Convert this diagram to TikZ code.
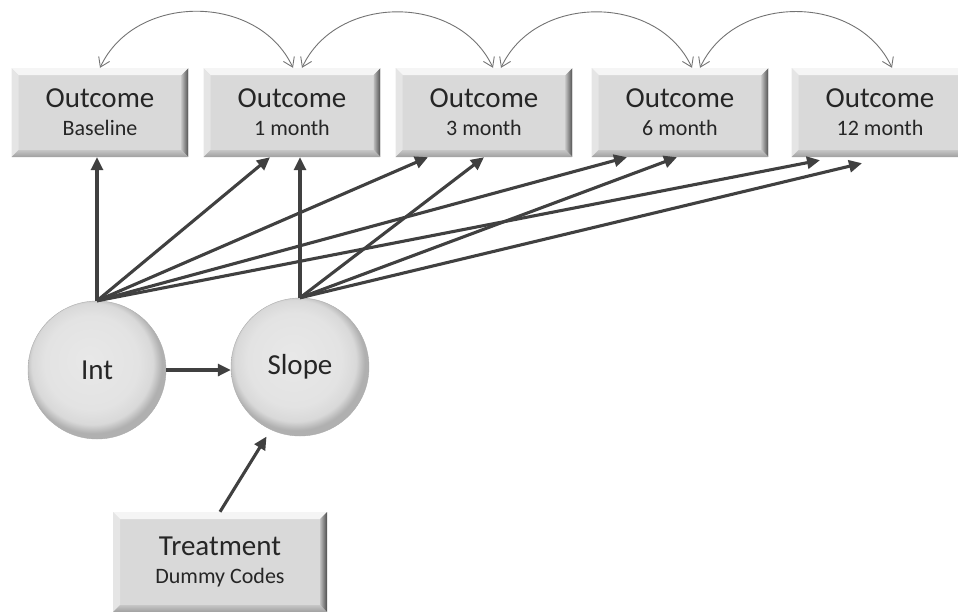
\documentclass[tikz,border=0pt]{standalone}
\usepackage{fontspec}
\setmainfont{Carlito}
\usetikzlibrary{arrows.meta}

\pgfdeclareradialshading{latent}{\pgfpoint{-3bp}{4bp}}{color(0bp)=(gray!18); color(17bp)=(gray!22); color(22bp)=(gray!30); color(25bp)=(gray!62); color(50bp)=(gray!62)}

\newcommand{\bevel}{%
  \path (path picture bounding box.north west) coordinate (bnw)
        (path picture bounding box.north east) coordinate (bne)
        (path picture bounding box.south east) coordinate (bse)
        (path picture bounding box.south west) coordinate (bsw);
  \fill[gray!8] (bnw) -- (bne) -- ([shift={(-7pt,-7pt)}]bne) -- ([shift={(7pt,-7pt)}]bnw) -- cycle;
  \fill[gray!20] (bnw) -- (bsw) -- ([shift={(7pt,7pt)}]bsw) -- ([shift={(7pt,-7pt)}]bnw) -- cycle;
  \shade[left color=gray!50,right color=black!70] (bne) -- (bse) -- ([shift={(-7pt,7pt)}]bse) -- ([shift={(-7pt,-7pt)}]bne) -- cycle;
  \shade[top color=gray!45,bottom color=gray!75] (bsw) -- (bse) -- ([shift={(-7pt,7pt)}]bse) -- ([shift={(7pt,7pt)}]bsw) -- cycle;
}
\newcommand{\subtxt}[1]{{\fontsize{22}{28}\selectfont #1}}

\begin{document}
\begin{tikzpicture}[x=1pt,y=1pt,
    obs/.style={rectangle,inner sep=0pt,minimum width=177pt,minimum height=89pt,fill=gray!30,
      align=center,text=black!85,font=\fontsize{29}{28}\selectfont,path picture={\bevel}},
    lat/.style={circle,minimum size=138pt,inner sep=0pt,shading=latent,draw=gray!65,
      text=black!85,font=\fontsize{29}{30}\selectfont},
    reg/.style={line width=3.1pt,draw=black!75,-{Triangle[length=13pt,width=12pt]}},
    cov/.style={line width=0.9pt,draw=black!55,
      {Straight Barb[length=9pt,width=12pt]}-{Straight Barb[length=9pt,width=12pt]}}]
  \useasboundingbox (0,0) rectangle (958,-611);

  % observed outcomes
  \node[obs] (base) at (100,-112.5) {Outcome\\\subtxt{Baseline}};
  \node[obs] (m1) at (292,-112.5) {Outcome\\\subtxt{1 month}};
  \node[obs] (m3) at (484,-112.5) {Outcome\\\subtxt{3 month}};
  \node[obs] (m6) at (680,-112.5) {Outcome\\\subtxt{6 month}};
  \node[obs] (m12) at (880,-112.5) {Outcome\\\subtxt{12 month}};

  % growth factors
  \node[lat] (int) at (97,-370) {Int};
  \node[lat] (slope) at (300,-367) {Slope};

  \node[obs,minimum width=214pt,minimum height=100pt] (treat) at (220,-562)
    {Treatment\\\subtxt{Dummy Codes}};

  % loadings
  \draw[reg] (int.north) -- (int.north |- base.south);
  \draw[reg] (int.north) -- ([xshift=-22pt]m1.south);
  \draw[reg] (int.north) -- ([xshift=-56pt]m3.south);
  \draw[reg] (int.north) -- ([xshift=-53pt]m6.south);
  \draw[reg] (int.north) -- ([shift={(-60pt,-3pt)}]m12.south);
  \draw[reg] (slope.north) -- (slope.north |- m1.south);
  \draw[reg] (slope.north) -- (m3.south);
  \draw[reg] (slope.north) -- ([xshift=-3pt]m6.south);
  \draw[reg] (slope.north) -- ([shift={(-18pt,-6pt)}]m12.south);

  \draw[reg] (int.east) -- (int.east -| slope.west);
  \draw[reg,shorten >=8pt] (treat.north) -- (slope.245);

  % adjacent residual covariances
  \draw[cov] (base.north) to[out=65,in=115,looseness=1.1] ([xshift=1pt]m1.north);
  \draw[cov] ([xshift=10pt]m1.north) to[out=65,in=115,looseness=1.1] ([xshift=9pt]m3.north);
  \draw[cov] ([xshift=17pt]m3.north) to[out=65,in=115,looseness=1.1] ([xshift=12pt]m6.north);
  \draw[cov] ([xshift=20pt]m6.north) to[out=65,in=115,looseness=1.1] ([xshift=12pt]m12.north);
\end{tikzpicture}
\end{document}
